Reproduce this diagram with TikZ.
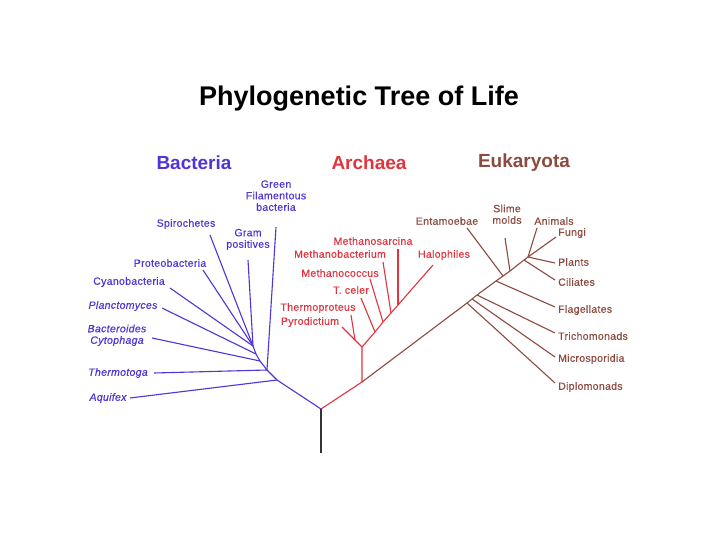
\documentclass[tikz,border=0pt]{standalone}
\usepackage{fontspec}
\setmainfont{Liberation Sans}
\newfontfamily\lblfont[LetterSpace=3,FakeBold=0.4]{Liberation Sans}
\usepackage{tikz}
\definecolor{bactcol}{RGB}{82,52,214}
\definecolor{archcol}{RGB}{226,52,62}
\definecolor{eukcol}{RGB}{140,74,64}

\begin{document}
\begin{tikzpicture}[x=1pt,y=-1pt,
    lbl/.style={font=\lblfont\fontsize{10.5}{11.5}\selectfont,inner sep=0pt,align=center,text height=7.5pt,text depth=2pt},
    head/.style={font=\bfseries\fontsize{19}{22}\selectfont,inner sep=0pt},
    bact/.style={draw=bactcol,line width=1.1pt},
    arch/.style={draw=archcol,line width=1.1pt},
    euk/.style={draw=eukcol,line width=1.1pt}]
    \useasboundingbox[fill=white] (0,0) rectangle (720,540);
    % titles
    \node[font=\bfseries\fontsize{27}{30}\selectfont,inner sep=0pt] (title) at (359,99) {Phylogenetic Tree of Life};
    \node[head,bactcol] (hbact) at (194,163) {Bacteria};
    \node[head,archcol] (harch) at (369,163) {Archaea};
    \node[head,eukcol] (heuk) at (524,163) {Eukaryota};
    % root
    \coordinate (root) at (321,409);
    \coordinate (base) at (321,453);
    \draw[black!80,line width=1.2pt] (base) -- (root);
    % bacteria
    \coordinate (bAq) at (277,380);
    \coordinate (bTh) at (267,370);
    \coordinate (bBc) at (260,361);
    \coordinate (bPl) at (256,354);
    \coordinate (bHub) at (253,346);
    \draw[bact] (root) -- (bAq) -- (bTh) -- (bBc) -- (bPl) -- (bHub);
    \node[lbl,bactcol] (green) at (276,208) {Green\\Filamentous\\bacteria};
    \node[lbl,bactcol] (spiro) at (186,224) {Spirochetes};
    \node[lbl,bactcol] (gram) at (248,245) {Gram\\positives};
    \node[lbl,bactcol] (proteo) at (170,264) {Proteobacteria};
    \node[lbl,bactcol] (cyano) at (129,282) {Cyanobacteria};
    \node[lbl,bactcol,font=\lblfont\itshape\fontsize{10.5}{11.5}\selectfont] (plancto) at (123,306) {Planctomyces};
    \node[lbl,bactcol,font=\lblfont\itshape\fontsize{10.5}{11.5}\selectfont] (bactero) at (117,341) {Bacteroides\\Cytophaga};
    \node[lbl,bactcol,font=\lblfont\itshape\fontsize{10.5}{11.5}\selectfont] (thermo) at (118,373) {Thermotoga};
    \node[lbl,bactcol,font=\lblfont\itshape\fontsize{10.5}{11.5}\selectfont] (aquifex) at (108,398) {Aquifex};
    \coordinate (eGreen) at (276,227);
    \coordinate (eSpiro) at (210,235);
    \coordinate (eGram) at (248,260);
    \coordinate (eProteo) at (203,270);
    \coordinate (eCyano) at (170,288);
    \coordinate (ePlancto) at (162,308);
    \coordinate (eBactero) at (152,338);
    \coordinate (eThermo) at (154,373);
    \coordinate (eAquifex) at (130,398);
    \draw[bact] (bTh) -- (eGreen);
    \draw[bact] (bHub) -- (eSpiro);
    \draw[bact] (bHub) -- (eGram);
    \draw[bact] (bHub) -- (eProteo);
    \draw[bact] (bHub) -- (eCyano);
    \draw[bact] (bPl) -- (ePlancto);
    \draw[bact] (bBc) -- (eBactero);
    \draw[bact] (bTh) -- (eThermo);
    \draw[bact] (bAq) -- (eAquifex);
    % archaea
    \coordinate (aJ) at (362,382);
    \coordinate (aK) at (362,347);
    \coordinate (aTp) at (355,340);
    \coordinate (aTc) at (375,332);
    \coordinate (aMc) at (383,322);
    \coordinate (aMb) at (391,313);
    \coordinate (aMs) at (398,305);
    \coordinate (ePyro) at (342,327);
    \coordinate (eTherp) at (351,315);
    \coordinate (eTcel) at (361,298);
    \coordinate (eMcoc) at (370,279);
    \coordinate (eMbac) at (383,262);
    \coordinate (eMsar) at (398,249);
    \coordinate (eHalo) at (433,265);
    \draw[arch] (root) -- (aJ) -- (aK) -- (aTc) -- (aMc) -- (aMb) -- (aMs) -- (eHalo);
    \draw[arch] (aK) -- (aTp) -- (ePyro);
    \draw[arch] (aTp) -- (eTherp);
    \draw[arch] (aTc) -- (eTcel);
    \draw[arch] (aMc) -- (eMcoc);
    \draw[arch] (aMb) -- (eMbac);
    \draw[arch] (aMs) -- (eMsar);
    \begin{scope}[every node/.append style={font=\lblfont\itshape\fontsize{10.5}{11.5}\selectfont}]
        \node[lbl,archcol] (msar) at (373,242) {Methanosarcina};
        \node[lbl,archcol] (mbac) at (340,255) {Methanobacterium};
        \node[lbl,archcol] (mcoc) at (340,274) {Methanococcus};
        \node[lbl,archcol] (tcel) at (351,291) {T. celer};
        \node[lbl,archcol] (therp) at (318,308) {Thermoproteus};
        \node[lbl,archcol] (pyro) at (310,322) {Pyrodictium};
    \end{scope}
    \node[lbl,archcol] (halo) at (444,255) {Halophiles};
    % eukaryota
    \coordinate (kDi) at (467,303);
    \coordinate (kMi) at (472,299);
    \coordinate (kTr) at (477,295);
    \coordinate (kFl) at (496,281);
    \coordinate (kEn) at (503,276);
    \coordinate (kSl) at (510,271);
    \coordinate (kCi) at (524,260);
    \coordinate (kTop) at (528,257);
    \draw[euk] (aJ) -- (kDi) -- (kMi) -- (kTr) -- (kFl) -- (kEn) -- (kSl) -- (kCi) -- (kTop);
    \coordinate (eEnt) at (467,228);
    \coordinate (eSli) at (505,238);
    \coordinate (eAni) at (537,228);
    \coordinate (eFun) at (556,237);
    \coordinate (ePla) at (555,263);
    \coordinate (eCil) at (555,280);
    \coordinate (eFla) at (555,307);
    \coordinate (eTri) at (555,333);
    \coordinate (eMic) at (555,357);
    \coordinate (eDip) at (555,383);
    \draw[euk] (kEn) -- (eEnt);
    \draw[euk] (kSl) -- (eSli);
    \draw[euk] (kTop) -- (eAni);
    \draw[euk] (kTop) -- (eFun);
    \draw[euk] (kTop) -- (ePla);
    \draw[euk] (kCi) -- (eCil);
    \draw[euk] (kFl) -- (eFla);
    \draw[euk] (kTr) -- (eTri);
    \draw[euk] (kMi) -- (eMic);
    \draw[euk] (kDi) -- (eDip);
    \node[lbl,eukcol] (entam) at (447,222) {Entamoebae};
    \node[lbl,eukcol] (slime) at (507,221) {Slime\\molds};
    \node[lbl,eukcol] (animals) at (554,222) {Animals};
    \node[lbl,eukcol,anchor=west] (fungi) at (558,233) {Fungi};
    \node[lbl,eukcol,anchor=west] (plants) at (558,263) {Plants};
    \node[lbl,eukcol,anchor=west] (ciliates) at (558,283) {Ciliates};
    \node[lbl,eukcol,anchor=west] (flag) at (558,310) {Flagellates};
    \node[lbl,eukcol,anchor=west] (tricho) at (558,337) {Trichomonads};
    \node[lbl,eukcol,anchor=west] (micro) at (558,359) {Microsporidia};
    \node[lbl,eukcol,anchor=west] (diplo) at (558,387) {Diplomonads};
\end{tikzpicture}
\end{document}
